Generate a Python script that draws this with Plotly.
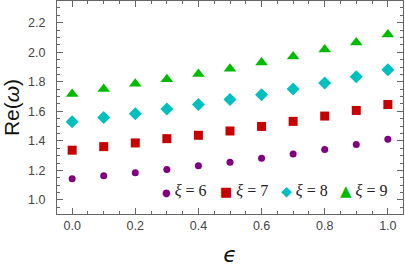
import plotly.graph_objects as go

eps = [0.0, 0.1, 0.2, 0.3, 0.4, 0.5, 0.6, 0.7, 0.8, 0.9, 1.0]
re_xi6 = [1.143, 1.164, 1.184, 1.207, 1.231, 1.256, 1.283, 1.312, 1.341, 1.375, 1.411]
re_xi7 = [1.337, 1.361, 1.386, 1.415, 1.438, 1.467, 1.498, 1.532, 1.568, 1.606, 1.646]
re_xi8 = [1.530, 1.559, 1.584, 1.615, 1.646, 1.680, 1.712, 1.752, 1.792, 1.835, 1.882]
re_xi9 = [1.718, 1.752, 1.786, 1.817, 1.853, 1.889, 1.931, 1.971, 2.019, 2.066, 2.120]
xi_values = ["6", "7", "8", "9"]
colors = ["#800080", "#c80000", "#00bfbf", "#00bb00"]
symbols = ["circle", "square", "diamond", "triangle-up"]
sizes = [7, 9, 10, 11]
glyphs = ["●", "■", "◆", "▲"]
glyph_sizes = [10, 13, 14, 15]
legend_x = [0.297, 0.465, 0.641, 0.812]

fig = go.Figure()
for n, ys, c, s, sz in zip(xi_values, [re_xi6, re_xi7, re_xi8, re_xi9], colors, symbols, sizes):
    fig.add_trace(go.Scatter(x=eps, y=ys, mode="markers", name=f"ξ = {n}",
                             marker=dict(color=c, symbol=s, size=sz, line=dict(width=0))))

for g, c, n, gs, lx in zip(glyphs, colors, xi_values, glyph_sizes, legend_x):
    txt = (f"<span style='color:{c};font-size:{gs}px;font-family:DejaVu Sans'>{g}</span>"
           f" <i>ξ</i> = {n}")
    fig.add_annotation(xref="paper", yref="paper", x=lx, y=0.11, xanchor="left", yanchor="middle",
                       text=txt, showarrow=False,
                       font=dict(family="Liberation Serif", size=16, color="#222"))

axis_common = dict(showline=True, linecolor="#666", linewidth=1.2, mirror="ticks",
                   ticks="inside", ticklen=6, tickwidth=1, tickcolor="#666",
                   showgrid=False, zeroline=False,
                   tickfont=dict(family="Liberation Sans", size=12.5, color="#444"),
                   automargin=False)

fig.update_xaxes(range=[-0.048, 1.048], dtick=0.2, tick0=0, tickformat=".1f",
                 minor=dict(dtick=0.05, ticks="inside", ticklen=3, tickcolor="#666"),
                 title=dict(text="<i>ϵ</i>", font=dict(family="DejaVu Sans", size=22, color="#111"), standoff=14),
                 **axis_common)
fig.update_yaxes(range=[0.905, 2.347], dtick=0.2, tick0=0, tickformat=".1f",
                 minor=dict(dtick=0.05, ticks="inside", ticklen=3, tickcolor="#666"),
                 ticklabelstandoff=8,
                 title=dict(text="Re(<i>ω</i>)", font=dict(family="Liberation Sans", size=21, color="#111"), standoff=10),
                 **axis_common)

fig.update_layout(width=405, height=273, margin=dict(l=57, r=2, t=1, b=59),
                  plot_bgcolor="white", paper_bgcolor="white", showlegend=False)

fig.write_html("out.html", config={"displayModeBar": False},
               post_script="document.body.style.margin='0px';")
